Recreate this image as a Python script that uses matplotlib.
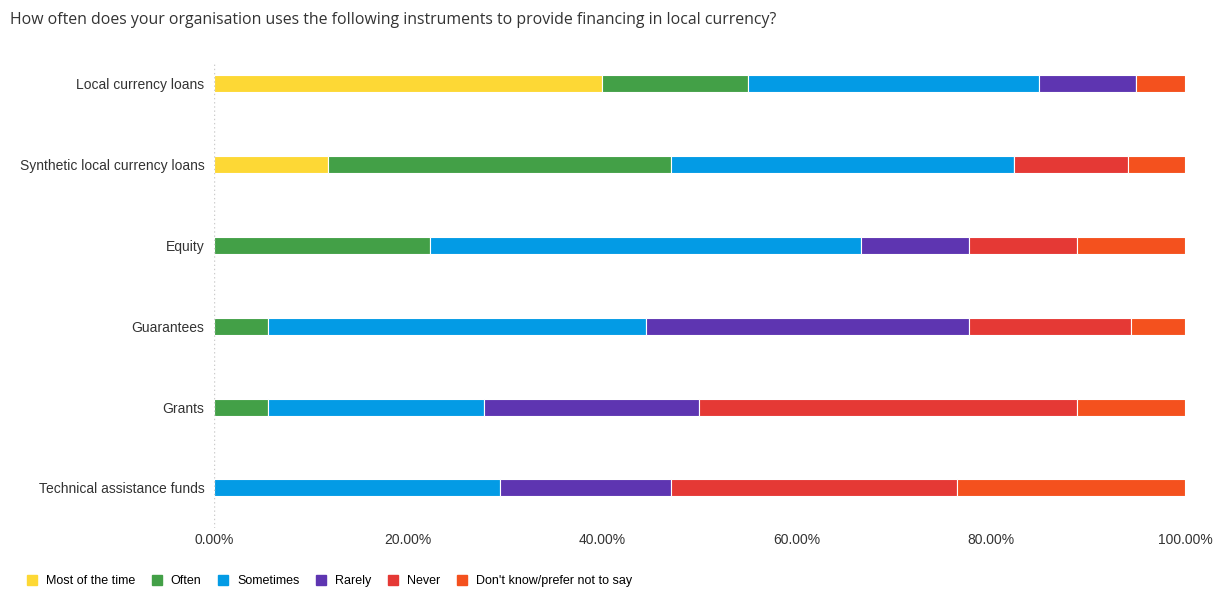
import matplotlib.pyplot as plt
from matplotlib.lines import Line2D

plt.close('all')

# Data (percent of respondents)
categories = ["Local currency loans", "Synthetic local currency loans", "Equity",
              "Guarantees", "Grants", "Technical assistance funds"]
responses = ["Most of the time", "Often", "Sometimes", "Rarely", "Never",
             "Don't know/prefer not to say"]
most_of_the_time = [40.0, 11.76, 0.0, 0.0, 0.0, 0.0]
often = [15.0, 35.29, 22.22, 5.56, 5.56, 0.0]
sometimes = [30.0, 35.29, 44.44, 38.89, 22.22, 29.41]
rarely = [10.0, 0.0, 11.11, 33.33, 22.22, 17.65]
never = [0.0, 11.76, 11.11, 16.67, 38.89, 29.41]
dont_know = [5.0, 5.88, 11.11, 5.56, 11.11, 23.53]
xticks = [0, 20, 40, 60, 80, 100]

series = [most_of_the_time, often, sometimes, rarely, never, dont_know]
colors = ["#fdd835", "#43a047", "#039be5", "#5e35b1", "#e53935", "#f4511e"]

fig = plt.figure(figsize=(12.2, 5.92), dpi=100)
ax = fig.add_axes([0.1754, 0.1073, 0.7959, 0.8207])

ypos = list(range(len(categories)))
left = [0.0] * len(categories)
for vals, col in zip(series, colors):
    ax.barh(ypos, vals, left=left, height=0.21, color=col,
            edgecolor='white', linewidth=0.8)
    left = [a + b for a, b in zip(left, vals)]

ax.set_ylim(len(categories) - 0.5, -0.5)
ax.set_xlim(0, 100)
ax.set_yticks(ypos)
ax.set_yticklabels(categories, fontsize=10, color='#333333', family='Liberation Sans')
ax.set_xticks(xticks)
ax.set_xticklabels(["%.2f%%" % t for t in xticks], fontsize=10, color='#333333',
                   family='Liberation Sans')
ax.tick_params(length=0, axis='y', pad=7)
ax.tick_params(length=0, axis='x', pad=3)
for s in ax.spines.values():
    s.set_visible(False)
ax.axvline(0, ymin=0.0, ymax=0.96, color='#cccccc', linestyle=(0, (1, 2)), linewidth=1)

fig.text(0.008, 0.967, "How often does your organisation uses the following instruments to provide financing in local currency?",
         fontsize=11.4, color='#333333', family='Open Sans', va='center')

handles = [Line2D([0], [0], marker='s', linestyle='none', markersize=7.2,
                  markerfacecolor=c, markeredgecolor=c) for c in colors]
fig.legend(handles, responses, loc='center left', bbox_to_anchor=(0.0221, 0.018),
           ncol=6, frameon=False, borderpad=0, borderaxespad=0,
           handlelength=0.8, handletextpad=0.7, columnspacing=1.35,
           prop={'family': 'Liberation Sans', 'size': 9})

plt.savefig("out.png", dpi=100)
